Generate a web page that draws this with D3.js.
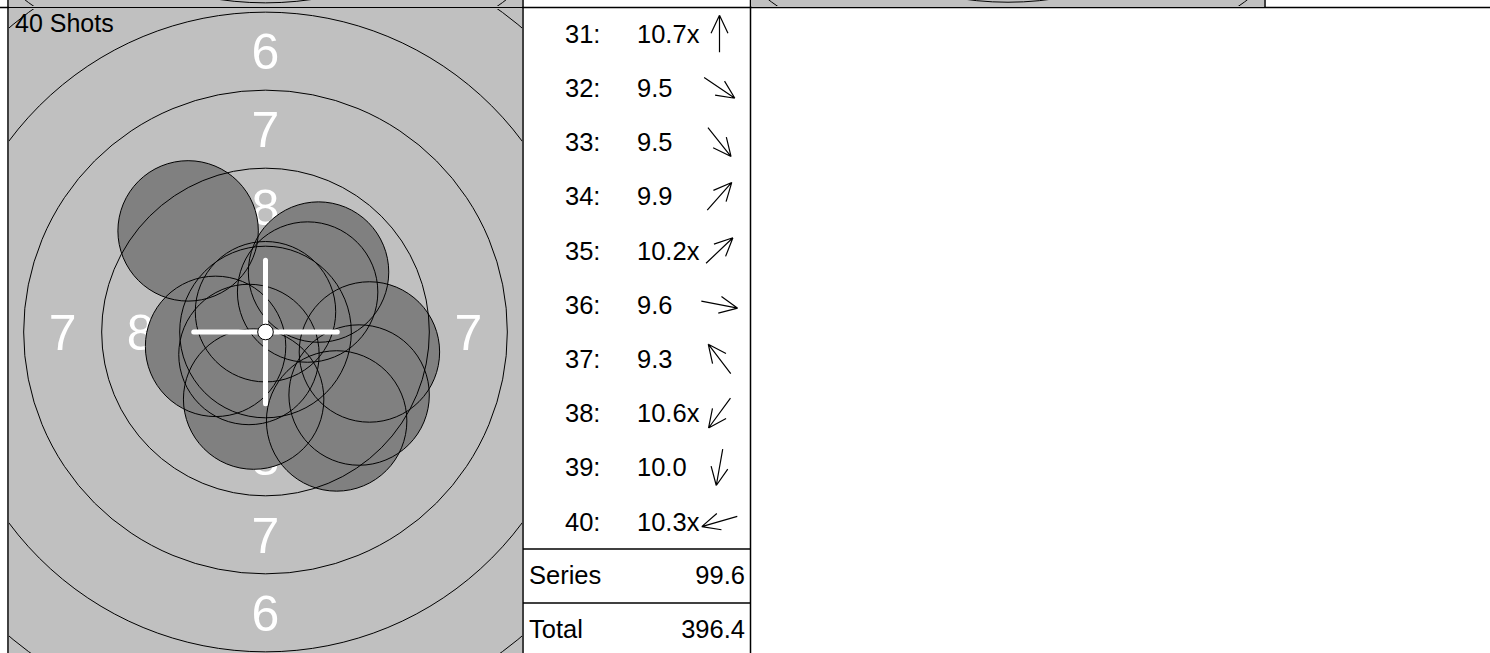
<!DOCTYPE html>
<html><head><meta charset="utf-8">
<script src="https://cdn.jsdelivr.net/npm/d3@7"></script>
<style>
html,body{margin:0;padding:0;background:#fff;overflow:hidden}
svg{display:block}
text{font-family:"Liberation Sans",Arial,Helvetica,sans-serif}
</style>
</head><body>
<svg id="c" width="1490" height="653"></svg>
<script>
// ---------------- data ----------------
const shotNumbers = [31, 32, 33, 34, 35, 36, 37, 38, 39, 40];
const shotScores  = ["10.7", "9.5", "9.5", "9.9", "10.2", "9.6", "9.3", "10.6", "10.0", "10.3"];
const shotInnerTen = [true, false, false, false, true, false, false, true, false, true];
// shot positions in mm from target centre (x right, y up)
const shotX = [0.00, 3.00, 2.28, 1.70, 1.35, 3.33, -2.48, -0.53, -0.38, -1.60];
const shotY = [0.65, -2.02, -2.85, 1.92, 1.28, -0.64, 3.24, -0.72, -2.15, -0.46];
const ringValues = [10, 9, 8, 7, 6, 5, 4, 3];
const labelRings = [9, 8, 7, 6, 5, 4];
const shotCountLabel = "40 Shots";
const summaryLabels = ["Series", "Total"];
const summaryValues = ["99.6", "396.4"];

// target geometry (ISSF 10m air rifle, mm)
const tenRadius = 0.25, ringStep = 2.5, pelletRadius = 2.25, crossArm = 2.3;
const ringRadius = n => tenRadius + (10 - n) * ringStep;

const svg = d3.select("#c");
const W = 1490, H = 653;

// ---------------- target drawing ----------------
let clipId = 0;
function drawTarget(px0, px1, py0, py1, withShots, label) {
  const halfW = 8.22, halfH = 10.35;
  const xs = d3.scaleLinear().domain([-halfW, halfW]).range([px0, px1]);
  const ys = d3.scaleLinear().domain([halfH, -halfH]).range([py0, py1]);
  const k = xs(1) - xs(0);
  const cx = xs(0), cy = ys(0);
  const id = "clip" + (clipId++);
  svg.append("clipPath").attr("id", id)
    .append("rect").attr("x", px0).attr("y", py0).attr("width", px1 - px0).attr("height", py1 - py0);
  const g = svg.append("g").attr("clip-path", `url(#${id})`);
  g.append("rect").attr("x", px0).attr("y", py0).attr("width", px1 - px0).attr("height", py1 - py0)
    .attr("fill", "#c0c0c0");

  // ring labels (only those whose centre lies on the visible part of the card)
  const lab = [];
  labelRings.forEach(n => {
    const r = (ringRadius(n) + ringRadius(n + 1)) / 2;
    [[0, r], [0, -r], [-r, 0], [r, 0]].forEach(p => lab.push({n, x: p[0], y: p[1]}));
  });
  const visLab = lab.filter(d => xs(d.x) > px0 && xs(d.x) < px1 &&
                                 ys(d.y) > Math.max(py0, 0) && ys(d.y) < Math.min(py1, H));
  g.selectAll("text.rl").data(visLab).join("text").attr("class", "rl")
    .attr("x", d => xs(d.x)).attr("y", d => ys(d.y)).attr("dy", "0.36em")
    .attr("text-anchor", "middle").attr("font-size", 50).attr("fill", "#fff")
    .text(d => d.n);

  const shots = shotX.map((x, i) => ({x, y: shotY[i]}));
  if (withShots) {
    g.selectAll("circle.sf").data(shots).join("circle").attr("class", "sf")
      .attr("cx", d => xs(d.x)).attr("cy", d => ys(d.y)).attr("r", pelletRadius * k)
      .attr("fill", "#808080");
  }
  g.selectAll("circle.ring").data(ringValues.filter(n => n < 10)).join("circle").attr("class", "ring")
    .attr("cx", cx).attr("cy", cy).attr("r", d => ringRadius(d) * k)
    .attr("fill", "none").attr("stroke", "#000").attr("stroke-width", 1);
  if (withShots) {
    g.selectAll("circle.so").data(shots).join("circle").attr("class", "so")
      .attr("cx", d => xs(d.x)).attr("cy", d => ys(d.y)).attr("r", pelletRadius * k)
      .attr("fill", "none").attr("stroke", "#000").attr("stroke-width", 1);
    // centre cross
    g.append("line").attr("x1", xs(-crossArm)).attr("x2", xs(crossArm)).attr("y1", cy).attr("y2", cy)
      .attr("stroke", "#fff").attr("stroke-width", 5).attr("stroke-linecap", "round");
    g.append("line").attr("x1", cx).attr("x2", cx).attr("y1", ys(crossArm)).attr("y2", ys(-crossArm))
      .attr("stroke", "#fff").attr("stroke-width", 5).attr("stroke-linecap", "round");
    g.append("circle").attr("cx", cx).attr("cy", cy).attr("r", tenRadius * k)
      .attr("fill", "#fff").attr("stroke", "#000").attr("stroke-width", 1);
  }
  if (label) {
    g.append("text").attr("x", px0 + 6).attr("y", py0 + 23).attr("font-size", 25).attr("fill", "#000").text(label);
  }
}

// previous row remnants
drawTarget(9, 522, -640, 6, false, null);
drawTarget(752, 1264, -640, 6, false, null);
// current target
drawTarget(9, 522, 9, 655, true, shotCountLabel);

// ---------------- shot list ----------------
const rowH = 54.2, top0 = 7;
const rows = svg.append("g");
shotNumbers.forEach((n, i) => {
  const top = top0 + rowH * i;
  rows.append("text").attr("x", 565).attr("y", top + 35.7).attr("font-size", 25.5).text(n + ":");
  rows.append("text").attr("x", 637).attr("y", top + 35.7).attr("font-size", 25.5)
    .text(shotScores[i] + (shotInnerTen[i] ? "x" : ""));
  // direction arrow
  const len = Math.hypot(shotX[i], shotY[i]);
  const ux = shotX[i] / len, uy = -shotY[i] / len;
  const ax = 719.5, ay = top + 26.7, hl = 18.5;
  const tx = ax + ux * hl, ty = ay + uy * hl;
  const path = d3.path();
  path.moveTo(ax - ux * hl, ay - uy * hl); path.lineTo(tx, ty);
  const ang = Math.atan2(uy, ux), hLen = 20, hA = 25 * Math.PI / 180;
  [ang + Math.PI - hA, ang + Math.PI + hA].forEach(a => {
    path.moveTo(tx, ty); path.lineTo(tx + Math.cos(a) * hLen, ty + Math.sin(a) * hLen);
  });
  rows.append("path").attr("d", path.toString()).attr("fill", "none").attr("stroke", "#000").attr("stroke-width", 1.2);
});
summaryLabels.forEach((l, j) => {
  const top = j === 0 ? 549 : 603;
  rows.append("text").attr("x", 529).attr("y", top + 34.5).attr("font-size", 25.5).text(l);
  rows.append("text").attr("x", 745).attr("y", top + 34.5).attr("font-size", 25.5).attr("text-anchor", "end").text(summaryValues[j]);
});

// ---------------- grid lines ----------------
const grid = svg.append("g").attr("stroke", "#000").attr("stroke-width", 1.5);
[[0, 7.5, W, 7.5], [8, 0, 8, H], [523, 0, 523, H], [750.5, 0, 750.5, H], [1265, 0, 1265, 7],
 [523, 549, 750.5, 549], [523, 603, 750.5, 603]].forEach(l =>
  grid.append("line").attr("x1", l[0]).attr("y1", l[1]).attr("x2", l[2]).attr("y2", l[3]));
</script>
</body></html>
